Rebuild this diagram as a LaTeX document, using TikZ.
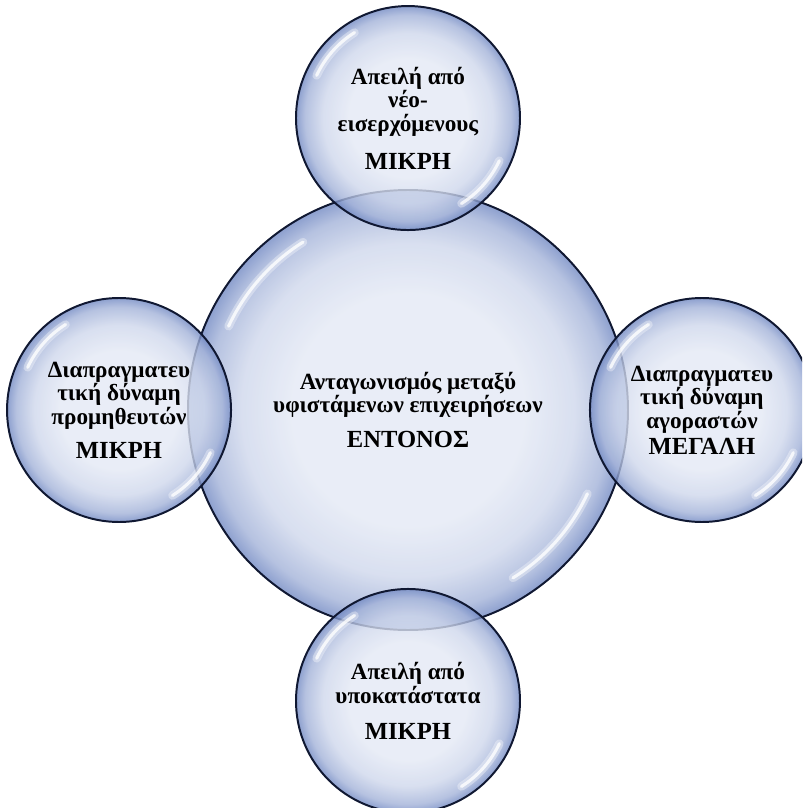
\documentclass[tikz,border=0pt]{standalone}
\usepackage{fontspec}
\setmainfont{Liberation Serif}
\usetikzlibrary{calc}
\usetikzlibrary{positioning}

\definecolor{bubblecore}{RGB}{228,233,245}
\definecolor{bubblerim}{RGB}{84,112,182}
\definecolor{bubbleline}{RGB}{16,24,50}

% pale centre, blue towards the rim (25bp = edge of the path)
\pgfdeclareradialshading{bubble}{\pgfpointorigin}{
  color(0bp)=(bubblecore); color(13bp)=(bubblecore);
  color(19bp)=(bubblecore!85!bubblerim); color(23bp)=(bubblecore!55!bubblerim);
  color(25bp)=(bubblecore!20!bubblerim); color(50bp)=(bubblerim)}

\newcommand{\rating}[1]{{\fontsize{17.5}{20}\selectfont #1}}

\tikzset{
  glow/.style={white, line width=6pt, line cap=round, opacity=0.35},
  gloss/.style={white, line width=2.2pt, line cap=round, opacity=0.8},
  bubble/.style={circle, draw=bubbleline, line width=1.4pt, shading=bubble,
    fill opacity=0.8, text opacity=1, inner sep=0, align=center,
    font=\bfseries\fontsize{16.5}{16.8}\selectfont,
    path picture={
      \foreach \s in {glow, gloss}
      \draw[\s] let \p1=(path picture bounding box.east),
        \p2=(path picture bounding box.center), \n1={0.9*(\x1-\x2)} in
        ($(\p2)+(155:\n1)$) arc[start angle=155, end angle=122, radius=\n1]
        ($(\p2)+(-25:\n1)$) arc[start angle=-25, end angle=-58, radius=\n1];
    }},
  big/.style={bubble, minimum size=11cm},
  small/.style={bubble, minimum size=5.6cm}
}

\begin{document}
\begin{tikzpicture}
  \path[use as bounding box, clip] (-10.2,-9.95) rectangle (9.85,10.25);

  \node[big] (rivalry) at (0,0)
    {Ανταγωνισμός μεταξύ\\ υφιστάμενων επιχειρήσεων\\[8pt] \rating{ΕΝΤΟΝΟΣ}};

  \node[small, above=-1.05cm of rivalry] (entrants)
    {Απειλή από\\ νέο-\\ εισερχόμενους\\[10pt] \rating{ΜΙΚΡΗ}};
  \node[small, left=-1.125cm of rivalry] (suppliers)
    {Διαπραγματευ\\ τική δύναμη\\ προμηθευτών\\[7.3pt] \rating{ΜΙΚΡΗ}};
  \node[small, right=-1cm of rivalry] (buyers)
    {Διαπραγματευ\\ τική δύναμη\\ αγοραστών\\[1.6pt] \rating{ΜΕΓΑΛΗ}};
  \node[small, below=-1.075cm of rivalry] (substitutes)
    {Απειλή από\\ υποκατάστατα\\[8.7pt] \rating{ΜΙΚΡΗ}};
\end{tikzpicture}
\end{document}
